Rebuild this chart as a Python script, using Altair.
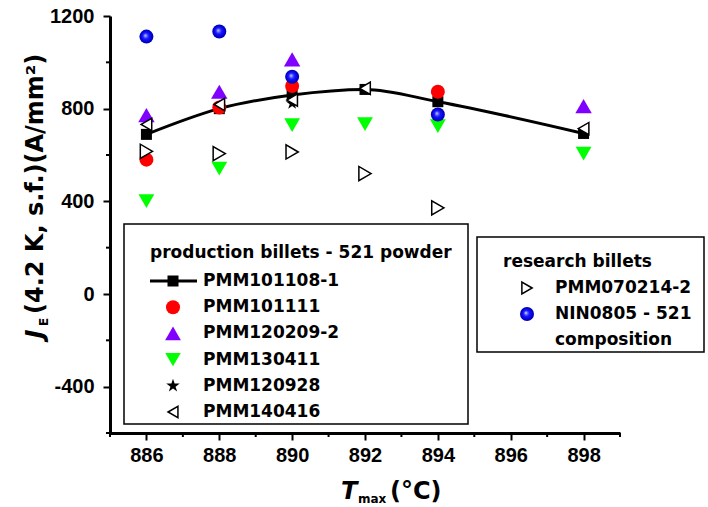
import altair as alt
import pandas as pd

# ---------------- data ----------------
X_TICKS = [886, 888, 890, 892, 894, 896, 898]
X_MINOR = [885, 887, 889, 891, 893, 895, 897, 899]
Y_TICKS = [-400, 0, 400, 800, 1200]
Y_MINOR = [-600, -200, 200, 600, 1000]

pmm101108_T = [886, 888, 890, 892, 894, 898]
pmm101108_J = [689, 800, 859, 883, 830, 693]
pmm101111_T = [886, 888, 890, 894]
pmm101111_J = [580, 805, 898, 873]
pmm120209_T = [886, 888, 890, 898]
pmm120209_J = [772, 873, 1013, 811]
pmm130411_T = [886, 888, 890, 892, 894, 898]
pmm130411_J = [401, 541, 729, 733, 725, 606]
pmm120928_T = [890]
pmm120928_J = [823]
pmm140416_T = [886, 888, 890, 892, 898]
pmm140416_J = [732, 818, 837, 888, 714]
pmm070214_T = [886, 888, 890, 892, 894]
pmm070214_J = [616, 606, 613, 520, 372]
nin0805_T = [886, 888, 890, 894]
nin0805_J = [1111, 1133, 938, 775]

PRODUCTION_NAMES = ["PMM101108-1", "PMM101111", "PMM120209-2", "PMM130411", "PMM120928", "PMM140416"]
RESEARCH_NAMES = ["PMM070214-2", "NIN0805 - 521", "composition"]
LEGEND1_TITLE = "production billets - 521 powder"
LEGEND2_TITLE = "research billets"

# ---------------- layout / style ----------------
W, H = 510, 417
OX, OY = 110, 16
LEG_FONT = "DejaVu Sans"
TICK_FONT = "Liberation Sans"

STAR = ("M0,-1L0.2245,-0.309L0.951,-0.309L0.363,0.118L0.588,0.809L0,0.382"
        "L-0.588,0.809L-0.363,0.118L-0.951,-0.309L-0.2245,-0.309Z")

SPHERE = alt.RadialGradient(
    gradient="radial",
    x1=0.42, y1=0.42, r1=0.0,
    x2=0.5, y2=0.5, r2=0.5,
    stops=[alt.GradientStop(color="#ffffff", offset=0.0),
           alt.GradientStop(color="#8080ff", offset=0.15),
           alt.GradientStop(color="#1515ff", offset=0.45),
           alt.GradientStop(color="#0000d0", offset=0.85),
           alt.GradientStop(color="#0000a0", offset=1.0)],
)

STYLE = {
    "sq": dict(shape="square", size=121, fill="black", stroke="black", strokeWidth=0),
    "red": dict(shape="circle", size=196, fill="#ff0000", stroke="#ff0000", strokeWidth=0),
    "pur": dict(shape="triangle-up", size=270, fill="#8000ff", stroke="#8000ff", strokeWidth=0),
    "grn": dict(shape="triangle-down", size=250, fill="#00ff00", stroke="#00ff00", strokeWidth=0),
    "star": dict(shape=STAR, size=180, fill="black", stroke="black", strokeWidth=0),
    "ltri": dict(shape="triangle-left", size=150, fill="white", stroke="black", strokeWidth=1.5),
    "rtri": dict(shape="triangle-right", size=200, fill="white", stroke="black", strokeWidth=1.5),
    "blue": dict(shape="circle", size=196, fill=SPHERE, stroke="#0000a0", strokeWidth=0),
}

xs = alt.Scale(domain=[885, 899], nice=False, zero=False)
ys = alt.Scale(domain=[-600, 1200], nice=False, zero=False)
AX = dict(domainColor="black", domainWidth=3, tickColor="black", tickWidth=2, tickSize=7,
          labelFont=TICK_FONT, labelFontWeight="bold", labelFontSize=20, labelColor="black",
          grid=False, title=None, labelExpr="'' + datum.value", labelFlush=False,
          labelOverlap=False)
X = alt.X("T:Q", scale=xs, axis=alt.Axis(values=X_TICKS, labelPadding=5, **AX))
Y = alt.Y("J:Q", scale=ys, axis=alt.Axis(values=Y_TICKS, labelPadding=9, **AX))

one = pd.DataFrame({"a": [0]})


def pts(T, J, key):
    df = pd.DataFrame({"T": T, "J": J})
    return alt.Chart(df).mark_point(opacity=1, filled=True, **STYLE[key]).encode(x=X, y=Y)


def sym(px, py, key, size=None):
    st = dict(STYLE[key])
    if size is not None:
        st["size"] = size
    return alt.Chart(one).mark_point(opacity=1, filled=True, **st).encode(
        x=alt.value(px - OX), y=alt.value(py - OY))


def txt(s, px, py, size=17, font=LEG_FONT, align="left", baseline="middle", angle=0,
        style="normal"):
    return alt.Chart(one).mark_text(
        text=s, font=font, fontSize=size, fontWeight="bold", fontStyle=style,
        align=align, baseline=baseline, angle=angle, color="black"
    ).encode(x=alt.value(px - OX), y=alt.value(py - OY))


def box(x0, y0, x1, y1):
    return alt.Chart(one).mark_rect(fill="white", stroke="black", strokeWidth=1.5).encode(
        x=alt.value(x0 - OX), x2=alt.value(x1 - OX), y=alt.value(y0 - OY), y2=alt.value(y1 - OY))


layers = []
# minor ticks through the chart scales
layers.append(alt.Chart(pd.DataFrame({"T": X_MINOR})).mark_rule(color="black", strokeWidth=2)
              .encode(x=X, y=alt.value(H), y2=alt.value(H + 4)))
layers.append(alt.Chart(pd.DataFrame({"J": Y_MINOR})).mark_rule(color="black", strokeWidth=2)
              .encode(y=Y, x=alt.value(0), x2=alt.value(-4)))

# fitted line + squares
layers.append(alt.Chart(pd.DataFrame({"T": pmm101108_T, "J": pmm101108_J}))
              .mark_line(color="black", strokeWidth=3, interpolate="monotone")
              .encode(x=X, y=Y))
layers.append(pts(pmm101108_T, pmm101108_J, "sq"))
layers.append(pts(pmm101111_T, pmm101111_J, "red"))
layers.append(pts(pmm120209_T, pmm120209_J, "pur"))
layers.append(pts(pmm130411_T, pmm130411_J, "grn"))
layers.append(pts(pmm120928_T, pmm120928_J, "star"))
layers.append(pts(pmm140416_T, pmm140416_J, "ltri"))
layers.append(pts(pmm070214_T, pmm070214_J, "rtri"))
layers.append(pts(nin0805_T, nin0805_J, "blue"))

# legend 1
layers.append(box(124, 224, 468, 424))
layers.append(txt(LEGEND1_TITLE, 150, 253))
keys1 = ["sq", "red", "pur", "grn", "star", "ltri"]
sizes1 = [121, 196, 250, 240, 200, 130]
for i, (name, key, sz) in enumerate(zip(PRODUCTION_NAMES, keys1, sizes1)):
    yy = 281 + i * 26.2
    if i == 0:
        layers.append(alt.Chart(one).mark_rule(color="black", strokeWidth=3).encode(
            x=alt.value(150 - OX), x2=alt.value(197 - OX), y=alt.value(yy - OY)))
    layers.append(sym(173, yy, key, sz))
    layers.append(txt(name, 203, yy))

# legend 2
layers.append(box(477, 237, 704, 352))
layers.append(txt(LEGEND2_TITLE, 503, 262))
layers.append(sym(527, 288, "rtri", 140))
layers.append(sym(527, 314, "blue", 196))
for i, name in enumerate(RESEARCH_NAMES):
    layers.append(txt(name, 555, 288 + i * 26))

# axis titles
layers.append(txt("J", 36, 334, size=24, align="center", angle=270, style="italic"))
layers.append(txt("E", 44, 322, size=12, align="center", angle=270))
layers.append(txt("(4.2 K, s.f.)(A/mm²)", 36, 314, size=24, align="left", angle=270))
layers.append(txt("T", 341, 499, size=24, baseline="alphabetic", style="italic"))
layers.append(txt("max", 358, 503, size=12, baseline="alphabetic"))
layers.append(txt("(°C)", 390, 499, size=24, baseline="alphabetic"))

chart = alt.layer(*layers).properties(
    width=W, height=H,
    padding={"left": OX, "top": OY, "right": 708 - OX - W, "bottom": 507 - OY - H},
    autosize=alt.AutoSizeParams(type="none"),
    background="white",
).configure_view(stroke="transparent")

chart.save("out.html", embed_options={"renderer": "svg", "actions": False})
